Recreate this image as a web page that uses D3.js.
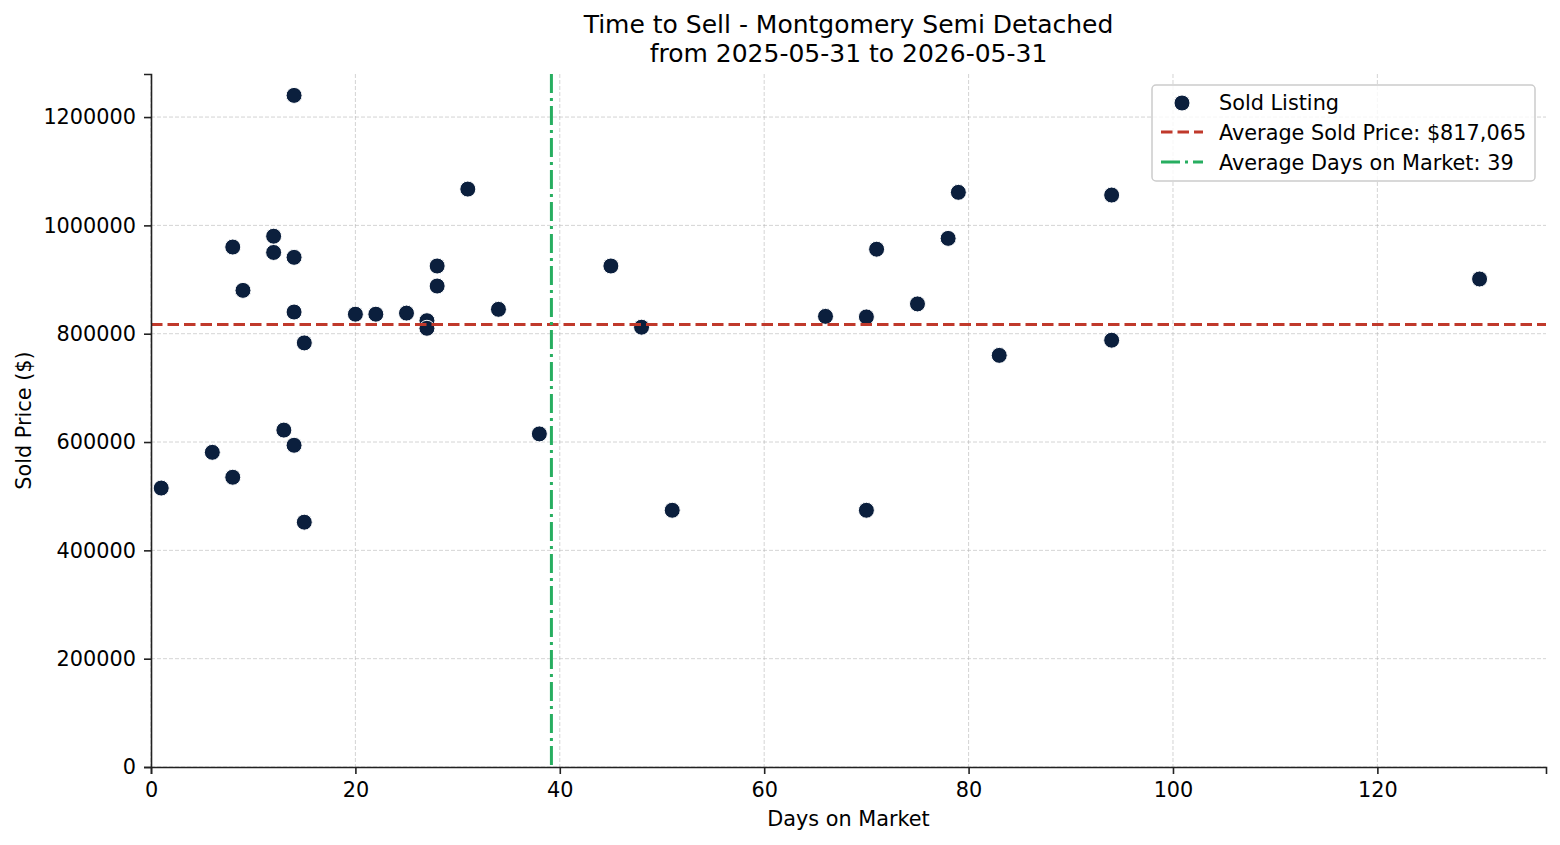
<!DOCTYPE html>
<html>
<head>
<meta charset="utf-8">
<script src="https://cdn.jsdelivr.net/npm/d3@7"></script>
<style>
  body { margin: 0; background: #fff; }
  text { font-family: "DejaVu Sans", sans-serif; fill: #000; }
</style>
</head>
<body>
<div id="chart"></div>
<script>
// days on market / sold price for each listing
const days = [1, 6, 8, 8, 9, 12, 12, 14, 14, 14, 13, 14, 15, 15, 20, 22, 25, 27, 27, 28, 28, 31, 34, 38,
  45, 48, 51, 66, 70, 70, 71, 75, 78, 79, 83, 94, 94, 130]
const prices = [515000, 581000, 535000, 960000, 880000, 980000, 950000, 1240000, 941000, 840000, 622000, 594000,
  783000, 452000, 836000, 836000, 838000, 824000, 810000, 925000, 888000, 1067000, 845000, 615000,
  925000, 812000, 474000, 832000, 831000, 474000, 956000, 855000, 976000, 1061000, 760000, 1056000, 788000, 901000]
const avgPrice = 817065
const avgDays = 39.18
const xTicks = [0, 20, 40, 60, 80, 100, 120]
const yTicks = [0, 200000, 400000, 600000, 800000, 1000000, 1200000]

const width = 1560
const height = 845
const margin = { top: 74, right: 14, bottom: 78, left: 151 }
const iw = width - margin.left - margin.right
const ih = height - margin.top - margin.bottom
const fs = '20.8px'

const svg = d3.select('#chart').append('svg')
  .attr('width', width)
  .attr('height', height)

const x = d3.scaleLinear().domain([0, 136.5]).range([0, iw])
const y = d3.scaleLinear().domain([0, 1279500]).range([ih, 0])

const g = svg.append('g').attr('transform', 'translate(' + margin.left + ',' + margin.top + ')')

// grid
g.append('g').selectAll('line').data(xTicks).enter().append('line')
  .attr('x1', d => x(d)).attr('x2', d => x(d))
  .attr('y1', 0).attr('y2', ih)
  .attr('stroke', '#b0b0b0').attr('stroke-opacity', 0.55)
  .attr('stroke-width', 1).attr('stroke-dasharray', '4,2')
g.append('g').selectAll('line').data(yTicks).enter().append('line')
  .attr('x1', 0).attr('x2', iw)
  .attr('y1', d => y(d)).attr('y2', d => y(d))
  .attr('stroke', '#b0b0b0').attr('stroke-opacity', 0.55)
  .attr('stroke-width', 1).attr('stroke-dasharray', '4,2')

// points
const pts = days.map((d, i) => ({ d: d, p: prices[i] }))
g.selectAll('.pt').data(pts).enter().append('circle')
  .attr('class', 'pt')
  .attr('cx', d => x(d.d))
  .attr('cy', d => y(d.p))
  .attr('r', 8)
  .attr('fill', '#0b1f3d')
  .attr('stroke', '#fff')
  .attr('stroke-width', 1)

// average lines
g.append('line')
  .attr('x1', 0).attr('x2', iw)
  .attr('y1', y(avgPrice)).attr('y2', y(avgPrice))
  .attr('stroke', '#c0392b').attr('stroke-width', 3)
  .attr('stroke-dasharray', '11.5,5')
g.append('line')
  .attr('x1', x(avgDays)).attr('x2', x(avgDays))
  .attr('y1', 0).attr('y2', ih)
  .attr('stroke', '#27ae60').attr('stroke-width', 3)
  .attr('stroke-dasharray', '19,5,3,5')

// axes
const xAxis = g.append('g').attr('transform', 'translate(0,' + ih + ')')
  .call(d3.axisBottom(x).tickValues(xTicks).tickSizeOuter(0).tickSize(7).tickPadding(8))
const yAxis = g.append('g')
  .call(d3.axisLeft(y).tickValues(yTicks).tickFormat(d3.format('d')).tickSizeOuter(0).tickSize(7).tickPadding(8))
;[xAxis, yAxis].forEach(a => {
  a.selectAll('path, line').attr('stroke', '#222').attr('stroke-width', 1.6)
  a.selectAll('text').style('font-size', fs).style('font-family', '"DejaVu Sans", sans-serif').attr('fill', '#000')
})

// labels
svg.append('text')
  .attr('x', margin.left + iw / 2).attr('y', 826)
  .attr('text-anchor', 'middle').style('font-size', fs)
  .text('Days on Market')
svg.append('text')
  .attr('transform', 'translate(31,' + (margin.top + ih / 2) + ') rotate(-90)')
  .attr('text-anchor', 'middle').style('font-size', fs)
  .text('Sold Price ($)')
svg.append('text')
  .attr('x', margin.left + iw / 2).attr('y', 33)
  .attr('text-anchor', 'middle').style('font-size', '25px')
  .text('Time to Sell - Montgomery Semi Detached')
svg.append('text')
  .attr('x', margin.left + iw / 2).attr('y', 62)
  .attr('text-anchor', 'middle').style('font-size', '25px')
  .text('from 2025-05-31 to 2026-05-31')

// legend
const lg = svg.append('g').attr('transform', 'translate(1152,85)')
lg.append('rect')
  .attr('width', 383).attr('height', 96).attr('rx', 4)
  .attr('fill', '#fff').attr('fill-opacity', 0.8)
  .attr('stroke', '#cccccc').attr('stroke-width', 1.5)
lg.append('circle').attr('cx', 30).attr('cy', 18).attr('r', 8)
  .attr('fill', '#0b1f3d').attr('stroke', '#fff')
lg.append('line').attr('x1', 9).attr('x2', 51).attr('y1', 47).attr('y2', 47)
  .attr('stroke', '#c0392b').attr('stroke-width', 3).attr('stroke-dasharray', '11.5,5')
lg.append('line').attr('x1', 9).attr('x2', 51).attr('y1', 77).attr('y2', 77)
  .attr('stroke', '#27ae60').attr('stroke-width', 3).attr('stroke-dasharray', '19,5,3,5')
const labels = ['Sold Listing', 'Average Sold Price: $817,065', 'Average Days on Market: 39']
lg.selectAll('.lt').data(labels).enter().append('text')
  .attr('class', 'lt')
  .attr('x', 67).attr('y', (d, i) => 25 + i * 30)
  .style('font-size', fs)
  .text(d => d)
</script>
</body>
</html>
